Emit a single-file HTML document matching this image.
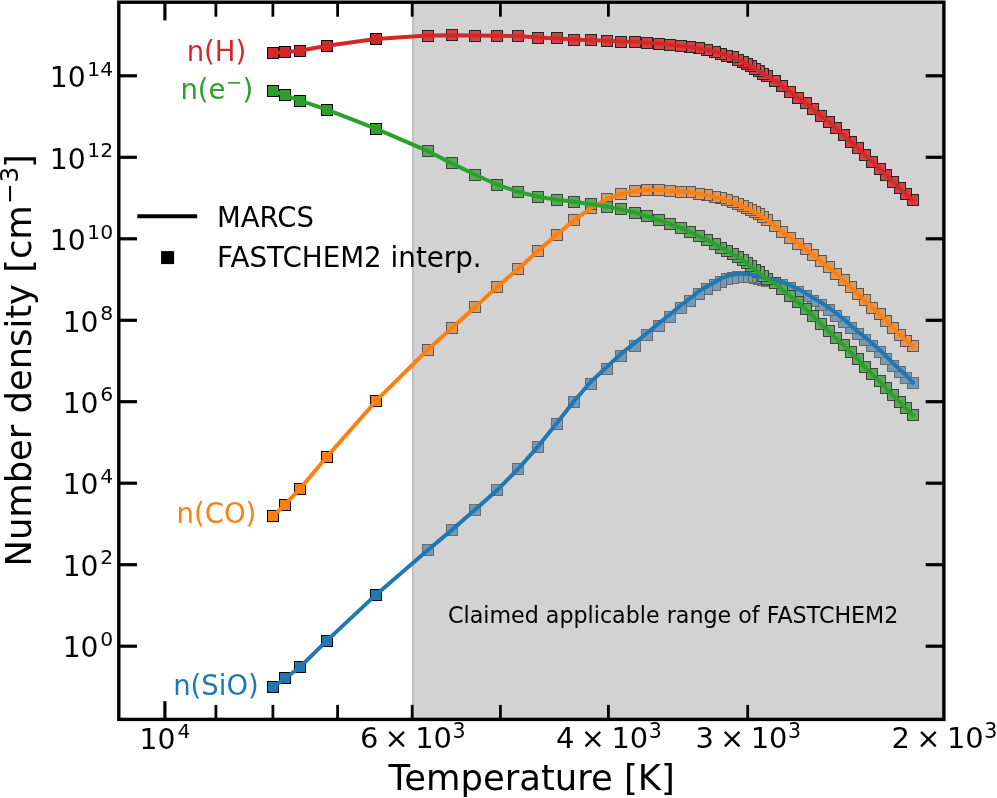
<!DOCTYPE html>
<html lang="en"><head><meta charset="utf-8"><title>Number density vs temperature</title>
<style>html,body{margin:0;padding:0;background:#fff}svg{display:block}text{font-family:"DejaVu Sans","Liberation Sans",sans-serif;fill:#000}</style></head><body>
<svg width="997" height="798" viewBox="0 0 997 798">
<rect x="0" y="0" width="997" height="798" fill="#fff"/>
<g id="markers">
<g fill="#1f77b4" stroke="#000" stroke-width="1.00"><rect x="907.5" y="377.5" width="11" height="11"/><rect x="900.5" y="372.5" width="11" height="11"/><rect x="894.5" y="366.5" width="11" height="11"/><rect x="887.5" y="360.5" width="11" height="11"/><rect x="880.5" y="353.5" width="11" height="11"/><rect x="874.5" y="346.5" width="11" height="11"/><rect x="866.5" y="340.5" width="11" height="11"/><rect x="859.5" y="334.5" width="11" height="11"/><rect x="852.5" y="328.5" width="11" height="11"/><rect x="845.5" y="322.5" width="11" height="11"/><rect x="838.5" y="316.5" width="11" height="11"/><rect x="830.5" y="310.5" width="11" height="11"/><rect x="823.5" y="304.5" width="11" height="11"/><rect x="815.5" y="299.5" width="11" height="11"/><rect x="807.5" y="295.5" width="11" height="11"/><rect x="800.5" y="290.5" width="11" height="11"/><rect x="792.5" y="286.5" width="11" height="11"/><rect x="784.5" y="282.5" width="11" height="11"/><rect x="776.5" y="279.5" width="11" height="11"/><rect x="769.5" y="277.5" width="11" height="11"/><rect x="761.5" y="275.5" width="11" height="11"/><rect x="757.5" y="274.5" width="11" height="11"/><rect x="753.5" y="273.5" width="11" height="11"/><rect x="749.5" y="272.5" width="11" height="11"/><rect x="745.5" y="271.5" width="11" height="11"/><rect x="741.5" y="271.5" width="11" height="11"/><rect x="737.5" y="271.5" width="11" height="11"/><rect x="732.5" y="271.5" width="11" height="11"/><rect x="727.5" y="272.5" width="11" height="11"/><rect x="721.5" y="273.5" width="11" height="11"/><rect x="715.5" y="276.5" width="11" height="11"/><rect x="709.5" y="279.5" width="11" height="11"/><rect x="701.5" y="283.5" width="11" height="11"/><rect x="693.5" y="288.5" width="11" height="11"/><rect x="684.5" y="295.5" width="11" height="11"/><rect x="675.5" y="302.5" width="11" height="11"/><rect x="664.5" y="311.5" width="11" height="11"/><rect x="653.5" y="320.5" width="11" height="11"/><rect x="641.5" y="329.5" width="11" height="11"/><rect x="629.5" y="340.5" width="11" height="11"/><rect x="615.5" y="350.5" width="11" height="11"/><rect x="601.5" y="363.5" width="11" height="11"/><rect x="585.5" y="378.5" width="11" height="11"/><rect x="568.5" y="396.5" width="11" height="11"/><rect x="551.5" y="418.5" width="11" height="11"/><rect x="532.5" y="441.5" width="11" height="11"/><rect x="512.5" y="463.5" width="11" height="11"/><rect x="491.5" y="484.5" width="11" height="11"/><rect x="469.5" y="504.5" width="11" height="11"/><rect x="446.5" y="524.5" width="11" height="11"/><rect x="422.5" y="544.5" width="11" height="11"/><rect x="370.5" y="589.5" width="11" height="11"/><rect x="321.5" y="635.5" width="11" height="11"/><rect x="294.5" y="661.5" width="11" height="11"/><rect x="267.5" y="681.5" width="11" height="11"/><rect x="279.5" y="672.5" width="11" height="11"/></g>
<rect x="412.0" y="2.2" width="531.9" height="717.2" fill="rgb(180,180,180)" fill-opacity="0.2"/><rect x="412.0" y="2.2" width="2" height="717.2" fill="rgb(180,180,180)" fill-opacity="0.2"/>
<g fill="#ff7f0e" stroke="#000" stroke-width="1.00"><rect x="907.5" y="340.5" width="11" height="11"/><rect x="900.5" y="335.5" width="11" height="11"/><rect x="894.5" y="329.5" width="11" height="11"/><rect x="887.5" y="322.5" width="11" height="11"/><rect x="880.5" y="315.5" width="11" height="11"/><rect x="874.5" y="308.5" width="11" height="11"/><rect x="866.5" y="302.5" width="11" height="11"/><rect x="859.5" y="294.5" width="11" height="11"/><rect x="852.5" y="288.5" width="11" height="11"/><rect x="845.5" y="281.5" width="11" height="11"/><rect x="838.5" y="274.5" width="11" height="11"/><rect x="830.5" y="268.5" width="11" height="11"/><rect x="823.5" y="261.5" width="11" height="11"/><rect x="815.5" y="255.5" width="11" height="11"/><rect x="807.5" y="249.5" width="11" height="11"/><rect x="800.5" y="243.5" width="11" height="11"/><rect x="792.5" y="238.5" width="11" height="11"/><rect x="784.5" y="232.5" width="11" height="11"/><rect x="776.5" y="226.5" width="11" height="11"/><rect x="769.5" y="220.5" width="11" height="11"/><rect x="761.5" y="214.5" width="11" height="11"/><rect x="757.5" y="211.5" width="11" height="11"/><rect x="753.5" y="208.5" width="11" height="11"/><rect x="749.5" y="206.5" width="11" height="11"/><rect x="745.5" y="204.5" width="11" height="11"/><rect x="741.5" y="202.5" width="11" height="11"/><rect x="737.5" y="200.5" width="11" height="11"/><rect x="732.5" y="198.5" width="11" height="11"/><rect x="727.5" y="196.5" width="11" height="11"/><rect x="721.5" y="194.5" width="11" height="11"/><rect x="715.5" y="192.5" width="11" height="11"/><rect x="709.5" y="191.5" width="11" height="11"/><rect x="701.5" y="189.5" width="11" height="11"/><rect x="693.5" y="188.5" width="11" height="11"/><rect x="684.5" y="186.5" width="11" height="11"/><rect x="675.5" y="186.5" width="11" height="11"/><rect x="664.5" y="185.5" width="11" height="11"/><rect x="653.5" y="184.5" width="11" height="11"/><rect x="641.5" y="184.5" width="11" height="11"/><rect x="629.5" y="185.5" width="11" height="11"/><rect x="615.5" y="188.5" width="11" height="11"/><rect x="601.5" y="193.5" width="11" height="11"/><rect x="585.5" y="202.5" width="11" height="11"/><rect x="568.5" y="214.5" width="11" height="11"/><rect x="551.5" y="229.5" width="11" height="11"/><rect x="532.5" y="245.5" width="11" height="11"/><rect x="512.5" y="263.5" width="11" height="11"/><rect x="491.5" y="281.5" width="11" height="11"/><rect x="469.5" y="301.5" width="11" height="11"/><rect x="446.5" y="322.5" width="11" height="11"/><rect x="422.5" y="344.5" width="11" height="11"/><rect x="370.5" y="395.5" width="11" height="11"/><rect x="321.5" y="451.5" width="11" height="11"/><rect x="294.5" y="483.5" width="11" height="11"/><rect x="267.5" y="510.5" width="11" height="11"/><rect x="279.5" y="499.5" width="11" height="11"/></g>
<rect x="412.0" y="2.2" width="531.9" height="717.2" fill="rgb(180,180,180)" fill-opacity="0.2"/><rect x="412.0" y="2.2" width="2" height="717.2" fill="rgb(180,180,180)" fill-opacity="0.2"/>
<g fill="#2ca02c" stroke="#000" stroke-width="1.00"><rect x="907.5" y="409.5" width="11" height="11"/><rect x="900.5" y="402.5" width="11" height="11"/><rect x="894.5" y="396.5" width="11" height="11"/><rect x="887.5" y="389.5" width="11" height="11"/><rect x="880.5" y="382.5" width="11" height="11"/><rect x="874.5" y="375.5" width="11" height="11"/><rect x="866.5" y="368.5" width="11" height="11"/><rect x="859.5" y="361.5" width="11" height="11"/><rect x="852.5" y="353.5" width="11" height="11"/><rect x="845.5" y="346.5" width="11" height="11"/><rect x="838.5" y="339.5" width="11" height="11"/><rect x="830.5" y="332.5" width="11" height="11"/><rect x="823.5" y="325.5" width="11" height="11"/><rect x="815.5" y="318.5" width="11" height="11"/><rect x="807.5" y="310.5" width="11" height="11"/><rect x="800.5" y="303.5" width="11" height="11"/><rect x="792.5" y="296.5" width="11" height="11"/><rect x="784.5" y="290.5" width="11" height="11"/><rect x="776.5" y="283.5" width="11" height="11"/><rect x="769.5" y="277.5" width="11" height="11"/><rect x="761.5" y="273.5" width="11" height="11"/><rect x="757.5" y="270.5" width="11" height="11"/><rect x="753.5" y="266.5" width="11" height="11"/><rect x="749.5" y="264.5" width="11" height="11"/><rect x="745.5" y="260.5" width="11" height="11"/><rect x="741.5" y="257.5" width="11" height="11"/><rect x="737.5" y="254.5" width="11" height="11"/><rect x="732.5" y="251.5" width="11" height="11"/><rect x="727.5" y="248.5" width="11" height="11"/><rect x="721.5" y="245.5" width="11" height="11"/><rect x="715.5" y="242.5" width="11" height="11"/><rect x="709.5" y="238.5" width="11" height="11"/><rect x="701.5" y="234.5" width="11" height="11"/><rect x="693.5" y="230.5" width="11" height="11"/><rect x="684.5" y="226.5" width="11" height="11"/><rect x="675.5" y="222.5" width="11" height="11"/><rect x="664.5" y="218.5" width="11" height="11"/><rect x="653.5" y="214.5" width="11" height="11"/><rect x="641.5" y="210.5" width="11" height="11"/><rect x="629.5" y="207.5" width="11" height="11"/><rect x="615.5" y="203.5" width="11" height="11"/><rect x="601.5" y="201.5" width="11" height="11"/><rect x="585.5" y="198.5" width="11" height="11"/><rect x="568.5" y="196.5" width="11" height="11"/><rect x="551.5" y="194.5" width="11" height="11"/><rect x="532.5" y="191.5" width="11" height="11"/><rect x="512.5" y="186.5" width="11" height="11"/><rect x="491.5" y="179.5" width="11" height="11"/><rect x="469.5" y="169.5" width="11" height="11"/><rect x="446.5" y="157.5" width="11" height="11"/><rect x="422.5" y="145.5" width="11" height="11"/><rect x="370.5" y="123.5" width="11" height="11"/><rect x="321.5" y="104.5" width="11" height="11"/><rect x="294.5" y="95.5" width="11" height="11"/><rect x="267.5" y="85.5" width="11" height="11"/><rect x="279.5" y="89.5" width="11" height="11"/></g>
<rect x="412.0" y="2.2" width="531.9" height="717.2" fill="rgb(180,180,180)" fill-opacity="0.2"/><rect x="412.0" y="2.2" width="2" height="717.2" fill="rgb(180,180,180)" fill-opacity="0.2"/>
<g fill="#d62728" stroke="#000" stroke-width="1.00"><rect x="907.5" y="194.5" width="11" height="11"/><rect x="900.5" y="188.5" width="11" height="11"/><rect x="894.5" y="182.5" width="11" height="11"/><rect x="887.5" y="176.5" width="11" height="11"/><rect x="880.5" y="169.5" width="11" height="11"/><rect x="874.5" y="163.5" width="11" height="11"/><rect x="866.5" y="156.5" width="11" height="11"/><rect x="859.5" y="149.5" width="11" height="11"/><rect x="852.5" y="142.5" width="11" height="11"/><rect x="845.5" y="136.5" width="11" height="11"/><rect x="838.5" y="129.5" width="11" height="11"/><rect x="830.5" y="122.5" width="11" height="11"/><rect x="823.5" y="116.5" width="11" height="11"/><rect x="815.5" y="110.5" width="11" height="11"/><rect x="807.5" y="103.5" width="11" height="11"/><rect x="800.5" y="97.5" width="11" height="11"/><rect x="792.5" y="92.5" width="11" height="11"/><rect x="784.5" y="86.5" width="11" height="11"/><rect x="776.5" y="80.5" width="11" height="11"/><rect x="769.5" y="75.5" width="11" height="11"/><rect x="761.5" y="70.5" width="11" height="11"/><rect x="757.5" y="68.5" width="11" height="11"/><rect x="753.5" y="65.5" width="11" height="11"/><rect x="749.5" y="63.5" width="11" height="11"/><rect x="745.5" y="60.5" width="11" height="11"/><rect x="741.5" y="58.5" width="11" height="11"/><rect x="737.5" y="56.5" width="11" height="11"/><rect x="732.5" y="54.5" width="11" height="11"/><rect x="727.5" y="51.5" width="11" height="11"/><rect x="721.5" y="50.5" width="11" height="11"/><rect x="715.5" y="48.5" width="11" height="11"/><rect x="709.5" y="46.5" width="11" height="11"/><rect x="701.5" y="44.5" width="11" height="11"/><rect x="693.5" y="42.5" width="11" height="11"/><rect x="684.5" y="41.5" width="11" height="11"/><rect x="675.5" y="40.5" width="11" height="11"/><rect x="664.5" y="39.5" width="11" height="11"/><rect x="653.5" y="38.5" width="11" height="11"/><rect x="641.5" y="37.5" width="11" height="11"/><rect x="629.5" y="36.5" width="11" height="11"/><rect x="615.5" y="36.5" width="11" height="11"/><rect x="601.5" y="35.5" width="11" height="11"/><rect x="585.5" y="34.5" width="11" height="11"/><rect x="568.5" y="34.5" width="11" height="11"/><rect x="551.5" y="32.5" width="11" height="11"/><rect x="532.5" y="32.5" width="11" height="11"/><rect x="512.5" y="30.5" width="11" height="11"/><rect x="491.5" y="30.5" width="11" height="11"/><rect x="469.5" y="30.5" width="11" height="11"/><rect x="446.5" y="29.5" width="11" height="11"/><rect x="422.5" y="30.5" width="11" height="11"/><rect x="370.5" y="33.5" width="11" height="11"/><rect x="321.5" y="40.5" width="11" height="11"/><rect x="294.5" y="45.5" width="11" height="11"/><rect x="267.5" y="47.5" width="11" height="11"/><rect x="279.5" y="46.5" width="11" height="11"/></g>
<rect x="412.0" y="2.2" width="531.9" height="717.2" fill="rgb(180,180,180)" fill-opacity="0.2"/><rect x="412.0" y="2.2" width="2" height="717.2" fill="rgb(180,180,180)" fill-opacity="0.2"/>
</g>
<g id="lines">
<polyline points="273.4,686.9 284.9,678.5 300.1,667.0 326.9,640.6 375.8,594.9 427.9,550.0 452.0,529.9 475.3,509.6 497.2,490.1 518.1,469.0 538.2,446.3 556.9,423.0 574.4,400.7 590.9,381.8 607.0,366.6 621.0,353.9 635.0,342.8 647.4,332.7 659.0,323.1 670.5,314.0 680.8,305.3 690.4,298.2 698.9,291.3 707.4,286.2 714.6,282.3 721.0,278.6 726.8,276.2 732.8,274.5 737.8,273.9 742.7,273.6 746.7,273.9 750.8,274.6 754.8,275.3 758.8,276.2 762.8,277.2 766.6,278.2 774.9,279.9 782.1,282.1 790.1,285.1 797.7,288.9 805.6,293.1 813.2,297.9 820.8,302.4 828.6,307.7 835.9,313.0 843.5,318.8 850.6,325.3 857.8,331.5 865.0,337.3 872.4,343.5 879.5,349.9 886.5,356.4 892.9,363.3 899.6,369.4 906.2,375.3 912.8,382.7" fill="none" stroke="#1f77b4" stroke-width="4.0" stroke-linejoin="round" stroke-linecap="square"/>
<polyline points="273.4,516.0 284.9,504.7 300.1,488.6 326.9,456.8 375.8,401.2 427.9,349.5 452.0,328.0 475.3,307.0 497.2,286.9 518.1,268.9 538.2,250.8 556.9,234.6 574.4,220.1 590.9,208.1 607.0,199.0 621.0,194.0 635.0,191.0 647.4,190.0 659.0,190.1 670.5,190.9 680.8,191.5 690.4,192.4 698.9,193.8 707.4,195.4 714.6,196.9 721.0,198.5 726.8,200.3 732.8,202.2 737.8,204.2 742.7,206.3 746.7,208.3 750.8,210.3 754.8,212.4 758.8,214.5 762.8,216.8 766.6,219.6 774.9,226.4 782.1,231.9 790.1,237.6 797.7,243.6 805.6,249.1 813.2,254.9 820.8,261.4 828.6,267.3 835.9,273.6 843.5,280.4 850.6,287.1 857.8,294.1 865.0,300.5 872.4,307.7 879.5,314.2 886.5,321.2 892.9,327.8 899.6,334.6 906.2,340.6 912.8,346.1" fill="none" stroke="#ff7f0e" stroke-width="4.0" stroke-linejoin="round" stroke-linecap="square"/>
<polyline points="273.4,91.1 284.9,95.1 300.1,100.7 326.9,109.7 375.8,128.6 427.9,151.2 452.0,163.4 475.3,174.7 497.2,184.7 518.1,191.8 538.2,196.8 556.9,199.8 574.4,201.8 590.9,204.2 607.0,206.6 621.0,209.2 635.0,212.6 647.4,216.4 659.0,220.2 670.5,224.1 680.8,228.2 690.4,232.2 698.9,236.3 707.4,240.1 714.6,244.1 721.0,247.7 726.8,250.7 732.8,253.9 737.8,257.2 742.7,260.1 746.7,263.3 750.8,266.5 754.8,269.5 758.8,272.4 762.8,275.5 766.6,278.6 774.9,283.2 782.1,289.4 790.1,296.2 797.7,302.2 805.6,308.9 813.2,316.3 820.8,323.8 828.6,331.2 835.9,338.2 843.5,345.3 850.6,352.3 857.8,359.3 865.0,367.3 872.4,374.4 879.5,381.4 886.5,388.4 892.9,395.4 899.6,402.0 906.2,408.5 912.8,415.2" fill="none" stroke="#2ca02c" stroke-width="4.0" stroke-linejoin="round" stroke-linecap="square"/>
<polyline points="273.4,52.7 284.9,51.9 300.1,50.7 326.9,45.7 375.8,38.9 427.9,35.6 452.0,35.2 475.3,35.5 497.2,35.7 518.1,36.1 538.2,37.5 556.9,38.5 574.4,39.5 590.9,40.3 607.0,40.7 621.0,41.5 635.0,42.1 647.4,42.7 659.0,43.6 670.5,44.8 680.8,46.0 690.4,47.2 698.9,48.4 707.4,50.2 714.6,51.8 721.0,53.6 726.8,55.5 732.8,57.4 737.8,59.5 742.7,61.7 746.7,64.0 750.8,66.3 754.8,68.7 758.8,71.1 762.8,73.5 766.6,76.0 774.9,80.7 782.1,86.2 790.1,91.9 797.7,97.5 805.6,103.2 813.2,109.2 820.8,115.6 828.6,121.8 835.9,128.2 843.5,134.9 850.6,141.9 857.8,148.3 865.0,154.9 872.4,161.5 879.5,168.6 886.5,175.4 892.9,182.0 899.6,188.4 906.2,194.4 912.8,200.5" fill="none" stroke="#d62728" stroke-width="4.0" stroke-linejoin="round" stroke-linecap="square"/>
</g>
<g id="ticks" stroke="#000" stroke-width="3.2">
<line x1="164.9" y1="719.4" x2="164.9" y2="701.2"/>
<line x1="164.9" y1="2.2" x2="164.9" y2="20.4"/>
<line x1="215.9" y1="719.4" x2="215.9" y2="704.9" stroke-width="2.8"/>
<line x1="215.9" y1="2.2" x2="215.9" y2="16.7" stroke-width="2.8"/>
<line x1="272.9" y1="719.4" x2="272.9" y2="704.9" stroke-width="2.8"/>
<line x1="272.9" y1="2.2" x2="272.9" y2="16.7" stroke-width="2.8"/>
<line x1="337.6" y1="719.4" x2="337.6" y2="704.9" stroke-width="2.8"/>
<line x1="337.6" y1="2.2" x2="337.6" y2="16.7" stroke-width="2.8"/>
<line x1="412.2" y1="719.4" x2="412.2" y2="704.9" stroke-width="2.8"/>
<line x1="412.2" y1="2.2" x2="412.2" y2="16.7" stroke-width="2.8"/>
<line x1="500.4" y1="719.4" x2="500.4" y2="704.9" stroke-width="2.8"/>
<line x1="500.4" y1="2.2" x2="500.4" y2="16.7" stroke-width="2.8"/>
<line x1="608.4" y1="719.4" x2="608.4" y2="704.9" stroke-width="2.8"/>
<line x1="608.4" y1="2.2" x2="608.4" y2="16.7" stroke-width="2.8"/>
<line x1="747.7" y1="719.4" x2="747.7" y2="704.9" stroke-width="2.8"/>
<line x1="747.7" y1="2.2" x2="747.7" y2="16.7" stroke-width="2.8"/>
<line x1="118.8" y1="646.2" x2="137.0" y2="646.2"/>
<line x1="943.9" y1="646.2" x2="925.7" y2="646.2"/>
<line x1="118.8" y1="564.7" x2="137.0" y2="564.7"/>
<line x1="943.9" y1="564.7" x2="925.7" y2="564.7"/>
<line x1="118.8" y1="483.2" x2="137.0" y2="483.2"/>
<line x1="943.9" y1="483.2" x2="925.7" y2="483.2"/>
<line x1="118.8" y1="401.7" x2="137.0" y2="401.7"/>
<line x1="943.9" y1="401.7" x2="925.7" y2="401.7"/>
<line x1="118.8" y1="320.3" x2="137.0" y2="320.3"/>
<line x1="943.9" y1="320.3" x2="925.7" y2="320.3"/>
<line x1="118.8" y1="238.8" x2="137.0" y2="238.8"/>
<line x1="943.9" y1="238.8" x2="925.7" y2="238.8"/>
<line x1="118.8" y1="157.3" x2="137.0" y2="157.3"/>
<line x1="943.9" y1="157.3" x2="925.7" y2="157.3"/>
<line x1="118.8" y1="75.8" x2="137.0" y2="75.8"/>
<line x1="943.9" y1="75.8" x2="925.7" y2="75.8"/>
</g>
<rect x="118.8" y="2.2" width="825.1" height="717.2" fill="none" stroke="#000" stroke-width="3.4"/>
<g id="ylabels" font-size="28.2">
<text x="62.7" y="657.4">10<tspan font-size="20.3" x="100.2" y="645.9">0</tspan></text>
<text x="62.7" y="575.9">10<tspan font-size="20.3" x="100.2" y="564.4">2</tspan></text>
<text x="62.7" y="494.4">10<tspan font-size="20.3" x="100.2" y="482.9">4</tspan></text>
<text x="62.7" y="412.9">10<tspan font-size="20.3" x="100.2" y="401.4">6</tspan></text>
<text x="62.7" y="331.5">10<tspan font-size="20.3" x="100.2" y="320.0">8</tspan></text>
<text x="49.8" y="250.0">10<tspan font-size="20.3" x="87.3" y="238.5">10</tspan></text>
<text x="49.8" y="168.5">10<tspan font-size="20.3" x="87.3" y="157.0">12</tspan></text>
<text x="49.8" y="87.0">10<tspan font-size="20.3" x="87.3" y="75.5">14</tspan></text>
</g>
<g id="xlabels" font-size="28.2">
<text x="139.5" y="748.5">10<tspan font-size="20.3" x="177.4" y="737.7">4</tspan></text>
<text y="747.9" font-size="28.9"><tspan x="359.9">6</tspan><tspan x="384.5">×</tspan><tspan x="415.2">10</tspan><tspan font-size="20.5" x="452.5" y="738.0">3</tspan></text>
<text y="747.9" font-size="28.9"><tspan x="556.1">4</tspan><tspan x="580.7">×</tspan><tspan x="611.4">10</tspan><tspan font-size="20.5" x="648.7" y="738.0">3</tspan></text>
<text y="747.9" font-size="28.9"><tspan x="695.4">3</tspan><tspan x="720.0">×</tspan><tspan x="750.7">10</tspan><tspan font-size="20.5" x="788.0" y="738.0">3</tspan></text>
<text y="747.9" font-size="28.9"><tspan x="891.6">2</tspan><tspan x="916.2">×</tspan><tspan x="946.9">10</tspan><tspan font-size="20.5" x="984.2" y="738.0">3</tspan></text>
</g>
<text x="531.75" y="789.5" font-size="35.4" text-anchor="middle">Temperature [K]</text>
<text transform="translate(31,566.5) rotate(-90)" font-size="35.3">Number density [cm<tspan font-size="24.7" dy="-12.6" dx="1.4">−<tspan dx="0.6">3</tspan></tspan><tspan dy="12.6" dx="-1.0">]</tspan></text>
<g font-size="27.5">
<text x="186.7" y="60.5" style="fill:#d62728">n(H)</text>
<text x="180.4" y="98.8" style="fill:#2ca02c">n(e<tspan font-size="19.3" dy="-10.2" dx="0.5">−</tspan><tspan dy="10.2" dx="0.4">)</tspan></text>
<text x="176.6" y="522.7" style="fill:#ff7f0e">n(CO)</text>
<text x="173.2" y="694.8" style="fill:#1f77b4">n(SiO)</text>
</g>
<text x="448.0" y="623.2" font-size="22.2">Claimed applicable range of FASTCHEM2</text>
<g id="legend"><line x1="139.3" y1="216.2" x2="195.2" y2="216.2" stroke="#000" stroke-width="4" stroke-linecap="square"/>
<rect x="161.1" y="251.1" width="13" height="13" fill="#000"/>
<text x="217.05" y="226.9" font-size="27.5">MARCS</text>
<text x="217.05" y="266.9" font-size="27.75">FASTCHEM2 interp.</text></g>
</svg></body></html>
